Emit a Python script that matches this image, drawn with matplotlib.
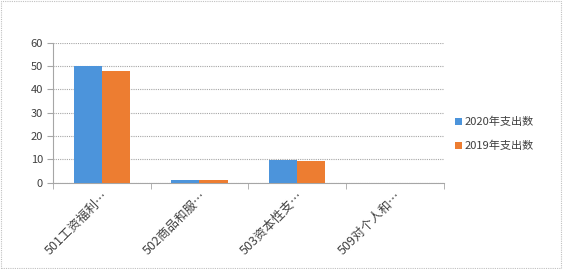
import numpy as np
import matplotlib.pyplot as plt
from matplotlib.patches import Rectangle

plt.rcParams['font.family'] = ['Noto Sans CJK SC', 'DejaVu Sans']

# data
categories = ['501工资福利…', '502商品和服…', '503资本性支…', '509对个人和…']
spend_2020 = [50.0, 1.2, 9.7, 0.0]
spend_2019 = [48.0, 1.2, 9.5, 0.0]
series_names = ['2020年支出数', '2019年支出数']

blue = '#4C94DB'
orange = '#ED7D31'
grey = '#A6A6A6'

fig = plt.figure(figsize=(5.63, 2.69), dpi=100)
ax = fig.add_axes([0.0936, 0.3208, 0.695, 0.5205])

x = np.arange(len(categories))
w = 0.287
ax.bar(x - w / 2, spend_2020, w, color=blue, label=series_names[0], zorder=3)
ax.bar(x + w / 2, spend_2019, w, color=orange, label=series_names[1], zorder=3)

ax.set_xlim(-0.5, len(categories) - 0.5)
ax.set_ylim(0, 60)
ax.set_yticks(range(0, 61, 10))
ax.yaxis.grid(True, color=grey, linestyle=(0, (1, 1)), linewidth=0.8, zorder=0)

ax.set_xticks(x)
ax.set_xticklabels(categories, rotation=45, ha='right', rotation_mode='anchor',
                   fontsize=9, color='#404040')
ax.set_xticks(np.arange(-0.5, len(categories)), minor=True)
ax.tick_params(axis='x', which='major', length=0, pad=5)
ax.tick_params(axis='x', which='minor', length=4, color=grey)
ax.tick_params(axis='y', length=4, color=grey, labelsize=8, labelcolor='#404040', pad=3)

for side in ['top', 'right']:
    ax.spines[side].set_visible(False)
for side in ['left', 'bottom']:
    ax.spines[side].set_color(grey)
    ax.spines[side].set_linewidth(0.8)

handles, labels = ax.get_legend_handles_labels()
fig.legend(handles, labels, loc='center left', bbox_to_anchor=(455 / 563, 0.502),
           frameon=False, borderpad=0, borderaxespad=0,
           fontsize=8, handlelength=0.6, handleheight=0.6, handletextpad=0.3,
           labelspacing=1.2, labelcolor='#404040')

# dotted border around the whole picture
fig.patches.append(Rectangle((0.002, 0.004), 0.995, 0.992, transform=fig.transFigure,
                             fill=False, edgecolor='#C0C0C0', linestyle=(0, (1, 1)),
                             linewidth=0.8))

fig.savefig('out.png', dpi=100)
